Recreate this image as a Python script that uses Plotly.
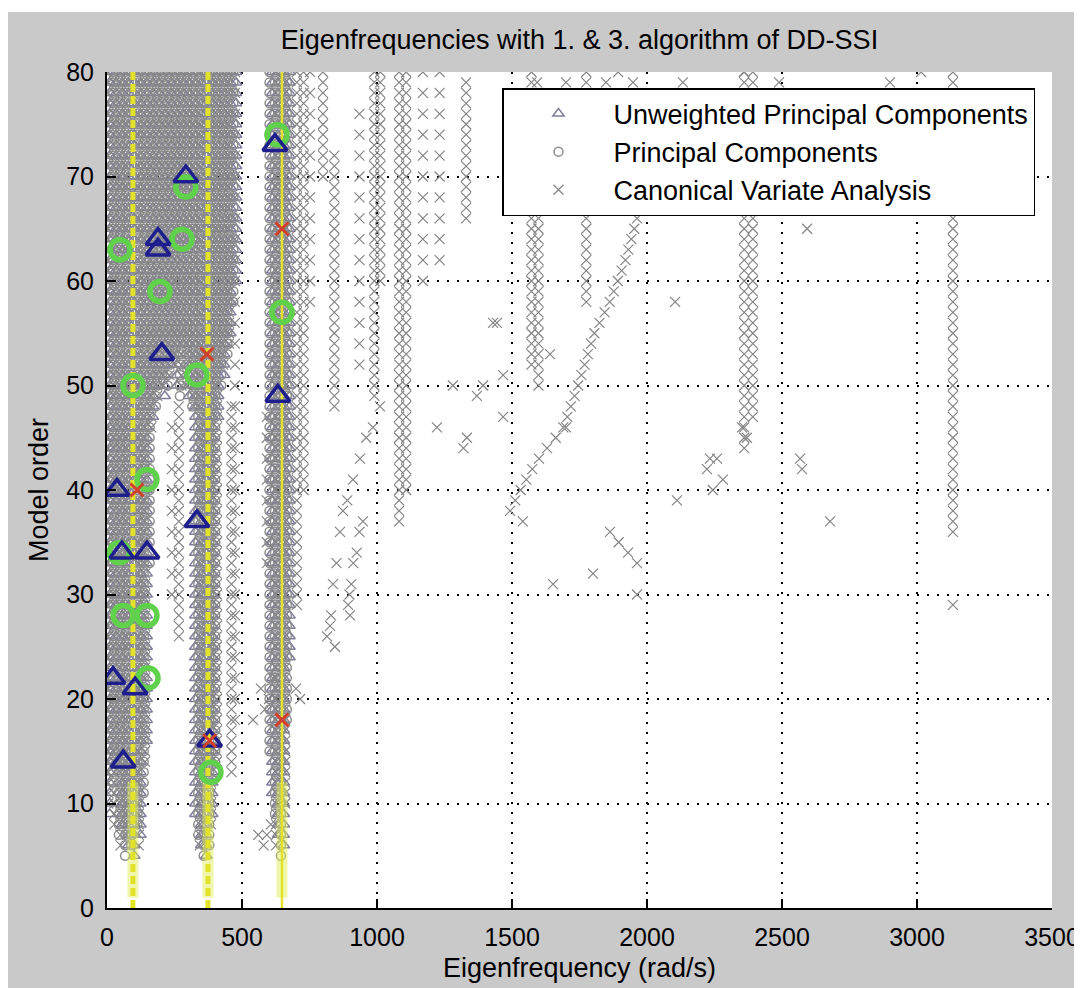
import plotly.graph_objects as go

# ---------------- data ----------------
X_TICKS = [0, 500, 1000, 1500, 2000, 2500, 3000, 3500]
Y_TICKS = [0, 10, 20, 30, 40, 50, 60, 70, 80]

# identified eigenfrequencies (yellow reference lines), rad/s
MODE_FREQS = [96, 374, 648]
MODE_DASHED = [True, True, False]

# grey poles: (frequency, lowest model order, highest model order[, order step])
UPC_COLUMNS = [
    (10, 9, 80), (33, 14, 80), (56, 8, 80), (79, 6, 80), (101, 5, 80), (124, 7, 80),
    (147, 16, 80), (170, 47, 80), (192, 50, 80), (214, 49, 80), (237, 52, 80),
    (259, 50, 80), (282, 54, 80), (304, 49, 80), (327, 9, 80), (349, 6, 80),
    (368, 5, 80), (390, 9, 80), (412, 47, 80), (434, 51, 80), (457, 55, 80),
    (478, 60, 80), (612, 11, 80), (633, 7, 80), (655, 6, 80), (676, 24, 80),
]
PC_COLUMNS = [
    (21, 12, 80), (44, 7, 80), (67, 5, 80), (90, 6, 80), (113, 8, 80), (136, 11, 80),
    (158, 33, 80), (181, 48, 80), (203, 51, 80), (225, 50, 80), (248, 53, 80),
    (270, 49, 80), (293, 52, 80), (316, 48, 80), (338, 7, 80), (358, 5, 80),
    (379, 6, 80), (401, 13, 80), (423, 50, 80), (446, 53, 80), (468, 58, 80),
    (602, 15, 80), (622, 9, 80), (644, 5, 80), (666, 18, 80),
]
CVA_COLUMNS = [
    # dense low-frequency block
    (5, 10, 80), (27, 8, 80), (50, 6, 80), (73, 7, 80), (118, 6, 80), (141, 14, 80),
    (164, 46, 80), (186, 49, 80), (209, 50, 80), (231, 51, 80), (254, 52, 80),
    (276, 50, 80), (298, 50, 80), (321, 48, 80), (344, 6, 80), (385, 8, 80),
    (407, 14, 80), (430, 52, 80), (452, 54, 80), (626, 6, 80), (660, 10, 80),
    # separate branches
    (240, 30, 47, 2), (266, 26, 48), (461, 13, 48), (474, 18, 80, 2),
    (592, 33, 48, 2), (703, 29, 80), (728, 40, 80), (752, 58, 80, 2), (800, 70, 80),
    (842, 48, 72), (935, 52, 76, 2), (990, 49, 80), (1012, 60, 80), (1082, 37, 80),
    (1108, 40, 80), (1170, 60, 80, 2), (1232, 62, 80, 2), (1330, 66, 79),
    (1572, 52, 80), (1598, 50, 78), (1775, 58, 80),
    (2360, 44, 80), (2392, 47, 80), (3133, 36, 66), (3133, 67, 80),
]
# grey CVA poles that drift or stand alone
CVA_POINTS_F = [
    # drifting branch 1500 -> 1980 rad/s
    1493, 1512, 1532, 1553, 1575, 1600, 1630, 1662, 1690, 1705, 1718, 1732, 1745, 1757,
    1769, 1781, 1793, 1805, 1824, 1843, 1862, 1877, 1892, 1906, 1920, 1931, 1942, 1953,
    1963, 1972, 1980,
    # drifting branch 1010 -> 815 rad/s
    1011, 985, 960, 937, 911, 890, 874, 863, 850, 837, 830, 826, 815, 844,
    948, 935, 925, 912, 905, 898, 893, 900,
    # scattered, middle
    1222, 1333, 1320, 1430, 1444, 1467, 1393, 1370, 1281, 1467, 1540, 1652, 1641, 1700,
    # scattered, right
    2104, 2593, 2567, 2574, 2678, 1863, 1895, 1930, 1963, 1800, 1963,
    2352, 2370, 2259, 2233, 2222, 2281, 2244, 2111, 3133,
    # top row
    1593, 1700, 1848, 1893, 1948, 2133, 2359, 2489, 2900, 3015,
    # low orders
    541, 570, 600, 615, 585, 715, 700, 580, 592, 607, 560,
]
CVA_POINTS_O = [
    38, 39, 40, 41, 42, 43, 44, 45, 46, 47, 48, 49, 50, 51,
    52, 53, 54, 55, 56, 57, 58, 59, 60, 61, 62, 63, 64, 65,
    66, 67, 68,
    48, 46, 45, 43, 41, 39, 38, 36, 33, 31, 28, 27, 26, 25,
    37, 36, 34, 33, 31, 30, 29, 28,
    46, 45, 44, 56, 56, 51, 50, 49, 50, 47, 37, 31, 53, 46,
    58, 65, 43, 42, 37, 36, 35, 34, 33, 32, 30,
    46, 45, 43, 43, 42, 41, 40, 39, 29,
    79, 79, 79, 80, 79, 79, 80, 79, 79, 80,
    18, 21, 20, 22, 19, 20, 21, 6, 7, 8, 7,
]

# stabilised poles (coloured)
STABLE_UPC_F = [292, 189, 189, 203, 622, 633, 37, 333, 55, 148, 22, 104, 60, 380]
STABLE_UPC_O = [70, 64, 63, 53, 73, 49, 40, 37, 34, 34, 22, 21, 14, 16]
STABLE_PC_F = [630, 292, 48, 278, 196, 333, 96, 648, 148, 45, 60, 148, 152, 385]
STABLE_PC_O = [74, 69, 63, 64, 59, 51, 50, 57, 41, 34, 28, 28, 22, 13]
STABLE_CVA_F = [648, 370, 111, 648, 380]
STABLE_CVA_O = [65, 53, 40, 18, 16]

LEGEND_NAMES = ["Unweighted Principal Components", "Principal Components",
                "Canonical Variate Analysis"]


def expand(columns):
    f, o = [], []
    for col in columns:
        freq, lo, hi = col[0], col[1], col[2]
        step = col[3] if len(col) > 3 else 1
        for order in range(lo, hi + 1, step):
            f.append(freq)
            o.append(order)
    return f, o


FONT = "Liberation Sans, Arial, Helvetica, sans-serif"
W, H = 1074, 980          # page body keeps an 8 px margin on the left and top
ML, MR, MT, MB = 99, 30, 64, 80
PLOT_H = H - MT - MB

fig = go.Figure()

uf, uo = expand(UPC_COLUMNS)
pf, po = expand(PC_COLUMNS)
cf, co = expand(CVA_COLUMNS)
cf = cf + CVA_POINTS_F
co = co + CVA_POINTS_O

fig.add_trace(go.Scatter(
    x=uf, y=uo, mode="markers", name=LEGEND_NAMES[0], legendgroup="a",
    marker=dict(symbol="triangle-up-open", size=10, color="#7f7f9c",
                line=dict(width=1.5, color="#7f7f9c"))))
fig.add_trace(go.Scatter(
    x=pf, y=po, mode="markers", name=LEGEND_NAMES[1], legendgroup="b",
    marker=dict(symbol="circle-open", size=9, color="#8e8e8e",
                line=dict(width=1.5, color="#8e8e8e"))))
fig.add_trace(go.Scatter(
    x=cf, y=co, mode="markers", name=LEGEND_NAMES[2], legendgroup="c",
    marker=dict(symbol="x-thin", size=10, color="#858585",
                line=dict(width=1.2, color="#858585"))))

# yellow reference lines
for fq, dashed in zip(MODE_FREQS, MODE_DASHED):
    fig.add_trace(go.Scatter(
        x=[fq, fq], y=[1, 12], mode="lines", showlegend=False, hoverinfo="skip",
        line=dict(color="rgba(225,240,90,0.5)", width=11)))
    fig.add_trace(go.Scatter(
        x=[fq, fq], y=[Y_TICKS[0], Y_TICKS[-1]], mode="lines", showlegend=False,
        hoverinfo="skip",
        line=dict(color="#e2e22a", width=5 if dashed else 2.5,
                  dash="8px,4px" if dashed else "solid")))

fig.add_trace(go.Scatter(
    x=STABLE_PC_F, y=STABLE_PC_O, mode="markers", showlegend=False,
    marker=dict(symbol="circle-open", size=20, color="#5fd14a",
                line=dict(width=5.5, color="#5fd14a"))))
fig.add_trace(go.Scatter(
    x=STABLE_UPC_F, y=STABLE_UPC_O, mode="markers", showlegend=False,
    marker=dict(symbol="triangle-up-open", size=21, color="#1e1e8c",
                line=dict(width=3.5, color="#1e1e8c"))))
fig.add_trace(go.Scatter(
    x=STABLE_CVA_F, y=STABLE_CVA_O, mode="markers", showlegend=False,
    marker=dict(symbol="x-thin", size=13, color="#d0402a",
                line=dict(width=3, color="#d0402a"))))

axis_common = dict(
    showline=True, linecolor="black", linewidth=2, mirror=False,
    ticks="inside", ticklen=9, tickwidth=1.5, tickcolor="black",
    showgrid=True, gridcolor="black", gridwidth=1.5, griddash="2px,8px",
    zeroline=False, layer="above traces", automargin=False,
    tickfont=dict(family=FONT, size=25, color="black"),
)

fig.update_layout(
    width=W, height=H, autosize=False,
    margin=dict(l=ML, r=MR, t=MT, b=MB, pad=0),
    paper_bgcolor="#c9c9c9", plot_bgcolor="white",
    font=dict(family=FONT, color="black"),
    title=dict(text="Eigenfrequencies with 1. & 3. algorithm of DD-SSI",
               x=0.5, xref="paper", y=1 - 32 / H, yref="container",
               xanchor="center", yanchor="middle",
               font=dict(family=FONT, size=27, color="black")),
    xaxis=dict(range=[X_TICKS[0], X_TICKS[-1]], tickvals=X_TICKS,
               title=dict(text="Eigenfrequency (rad/s)", standoff=8,
                          font=dict(family=FONT, size=27, color="black")),
               ticklabelstandoff=6, **axis_common),
    yaxis=dict(range=[Y_TICKS[0], Y_TICKS[-1]], tickvals=Y_TICKS,
               title=dict(text="Model order", standoff=10,
                          font=dict(family=FONT, size=27, color="black")),
               ticklabelstandoff=6, **axis_common),
    legend=dict(x=(502 - 107) / 945, y=(908 - 88) / PLOT_H, xanchor="left", yanchor="top",
                bgcolor="white", bordercolor="black", borderwidth=1.5,
                font=dict(family=FONT, size=27, color="black"),
                itemwidth=100, tracegroupgap=0, traceorder="grouped"),
    shapes=[
        dict(type="rect", xref="paper", yref="paper", x0=-0.2, x1=1.2,
             y0=(PLOT_H + MT - 4) / PLOT_H, y1=1.2, fillcolor="white",
             line=dict(width=0), layer="below"),
    ],
    showlegend=True,
)

fig.write_html("out.html")
